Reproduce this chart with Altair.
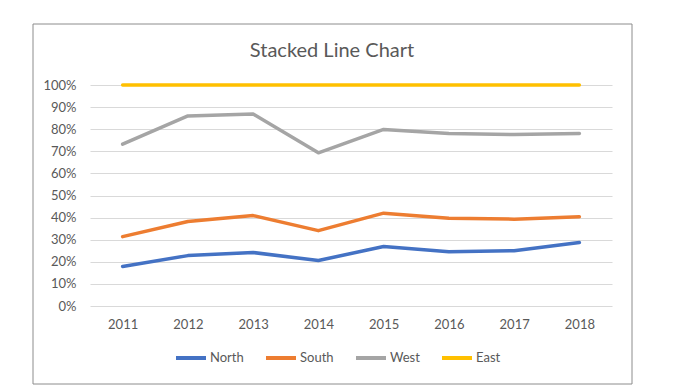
import altair as alt
import pandas as pd

years = ["2011", "2012", "2013", "2014", "2015", "2016", "2017", "2018"]
series = ["North", "South", "West", "East"]
colors = ["#4472C4", "#ED7D31", "#A5A5A5", "#FFC000"]

# share of each region per year (percent); stacked to 100%
north = [17.9, 22.8, 24.2, 20.6, 26.9, 24.6, 25.0, 28.7]
south = [13.5, 15.4, 16.7, 13.5, 15.1, 15.1, 14.3, 11.7]
west = [41.8, 47.8, 46.0, 35.2, 37.9, 38.4, 38.3, 37.7]
east = [26.8, 14.0, 13.1, 30.7, 20.1, 21.9, 22.4, 21.9]

rows = []
cum = [0.0] * len(years)
for name, vals in zip(series, [north, south, west, east]):
    cum = [c + v for c, v in zip(cum, vals)]
    for yr, c in zip(years, cum):
        rows.append({"Year": yr, "Region": name, "Cum": c / 100.0})
df = pd.DataFrame(rows)

FONT = "Lato"
GREY = "#595959"

lines = alt.Chart(df).mark_line(strokeWidth=3.5, strokeCap="round", strokeJoin="round").encode(
    x=alt.X("Year:O", scale=alt.Scale(type="point", padding=0.5),
            axis=alt.Axis(title=None, labelAngle=0, ticks=False, domain=False, grid=False,
                          labelFont=FONT, labelFontSize=13, labelColor=GREY, labelPadding=12)),
    y=alt.Y("Cum:Q", scale=alt.Scale(domain=[0, 1]),
            axis=alt.Axis(title=None, format=".0%", values=[i / 10 for i in range(11)],
                          ticks=False, domain=False, gridColor="#D9D9D9", gridWidth=1,
                          labelFont=FONT, labelFontSize=13, labelColor=GREY, labelPadding=14)),
    color=alt.Color("Region:N", sort=series,
                    scale=alt.Scale(domain=series, range=colors),
                    legend=alt.Legend(title=None, orient="none", direction="horizontal",
                                      legendX=84, legendY=256, symbolType="stroke",
                                      symbolSize=900, symbolStrokeWidth=4,
                                      labelFont=FONT, labelFontSize=13, labelColor=GREY,
                                      labelOffset=2, columnPadding=14)),
    order=alt.Order("Region:N"),
)

frame = alt.Chart(pd.DataFrame({"a": [0]})).mark_rect(
    fill="white", fillOpacity=0, stroke="#8C8C8C", strokeWidth=1
).encode(x=alt.value(-57), x2=alt.value(542), y=alt.value(-61), y2=alt.value(299))

chart = alt.layer(frame, lines).properties(
    width=522, height=221,
    padding={"left": 82, "top": 77, "right": 56, "bottom": 80},
    autosize=alt.AutoSizeParams(type="none"),
    view=alt.ViewBackground(stroke="transparent", strokeWidth=0),
    title=alt.TitleParams("Stacked Line Chart", font=FONT, fontSize=20, fontWeight="normal",
                          color=GREY, dx=-19, offset=-37),
).configure_view(stroke="transparent", strokeWidth=0).configure(background="white")

chart.save("out.html", embed_options={"renderer": "svg", "actions": False})
